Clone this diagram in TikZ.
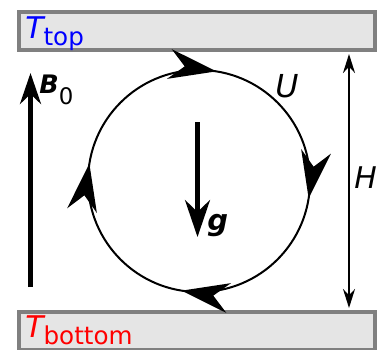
\documentclass[tikz,border=0pt]{standalone}
\usepackage{fontspec}
\setmainfont{DejaVu Sans}
\usetikzlibrary{positioning,calc,arrows.meta,decorations.markings}
\tikzset{>={Stealth[length=9.5mm,width=6mm]}}

\begin{document}
\begin{tikzpicture}[
    x=0.02cm, y=-0.02cm,
    plate/.style={draw=black!50, fill=black!10, line width=0.08cm, minimum width=7.13cm, minimum height=0.76cm, inner sep=0},
    templabel/.style={anchor=base west, inner sep=0},
    lbl/.style={anchor=base west, inner sep=0, font=\fontsize{18}{20}\selectfont\itshape},
    heavy/.style={->, line width=0.09cm},
    flow/.style={line width=0.04cm, postaction={decorate},
        decoration={markings, mark=between positions 0.025 and 1 step 0.25 with {\arrow{>}}}},
    dim/.style={<->, line width=0.04cm, >={Stealth[length=3.8mm,width=2.4mm]}}
]
\useasboundingbox (0,0) rectangle (377,349);
\node[plate] (top) at (196.75,31) {};
\node[plate] (bottom) at (196.75,331) {};
\node[templabel, text=blue] (Ttop) at (25,38) {\fontsize{17}{20}\selectfont\itshape T\raisebox{-4.3pt}{\fontsize{14}{16}\selectfont\upshape top}};
\node[templabel, text=red] (Tbottom) at (25,337) {\fontsize{17}{20}\selectfont\itshape T\raisebox{-4.3pt}{\fontsize{14}{16}\selectfont\upshape bottom}};

\coordinate (c) at (199,181);
\draw[flow] (c) ++(90:2.22cm) arc[start angle=90, end angle=-270, radius=2.22cm];
\node[lbl] (U) at (275,97) {U};

\coordinate (btail) at (30.5,287);
\coordinate (bhead) at (30.5,73);
\draw[heavy, >={Stealth[length=6.2mm,width=4.2mm]}] (btail) -- (bhead);
\node[templabel] (B) at (39,93) {\fontsize{14.5}{16}\selectfont\bfseries\itshape B\raisebox{-6.8pt}{\fontsize{13}{15}\selectfont\mdseries\upshape 0}};

\coordinate (gtail) at (197.5,122);
\coordinate (ghead) at (197.5,237);
\draw[heavy, >={Stealth[length=7.4mm,width=5mm]}] (gtail) -- (ghead);
\node[templabel] (g) at (207,230) {\fontsize{16.5}{18}\selectfont\bfseries\itshape g};

\coordinate (hx) at (349,0);
\draw[dim, shorten <=0.04cm, shorten >=0.04cm] (top.south -| hx) -- (bottom.north -| hx);
\node[lbl, font=\fontsize{17}{20}\selectfont\itshape] (H) at (354,188) {H};
\end{tikzpicture}
\end{document}
